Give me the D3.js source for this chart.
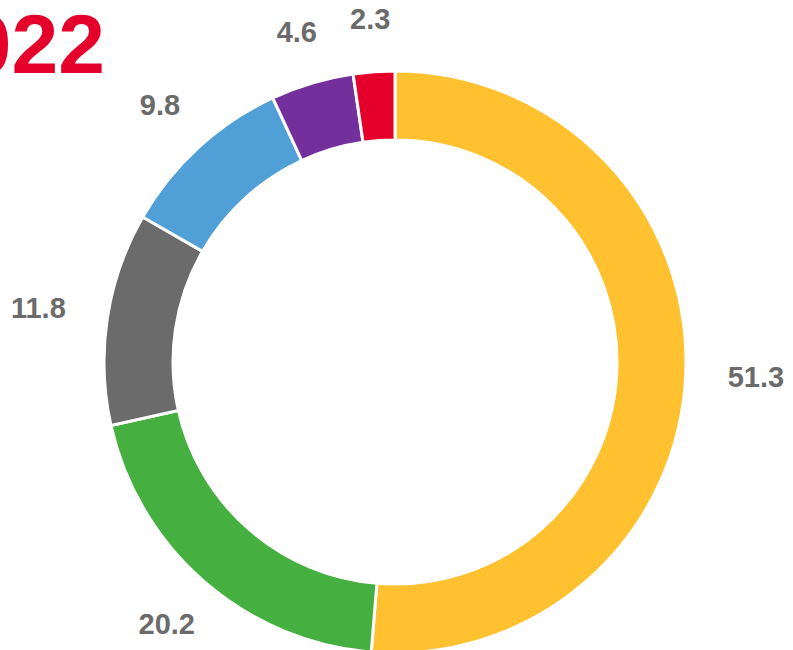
<!DOCTYPE html>
<html lang="en">
  <head>
    <meta charset="utf-8" />
    <title>Donut 2022</title>
    <script src="https://cdn.jsdelivr.net/npm/d3@7"></script>
    <style type="text/css">
      body { margin: 0; background: #fff; }
      svg { display: block; font-family: "Liberation Sans", Arial, sans-serif; }
      .label { font-weight: bold; fill: #6b6b6b; }
    </style>
  </head>
  <body>
    <div id="chart"></div>
    <script type="text/javascript">
      /*******************************************
       * data
       *******************************************/
      const title = "2022";
      const categories = ["a", "b", "c", "d", "e", "f"];
      const values = [51.3, 20.2, 11.8, 9.8, 4.6, 2.3];
      const colors = ["#ffc12f", "#45b03f", "#6b6b6b", "#519fd7", "#73309c", "#e4002b"];

      /*******************************************
       * svg
       *******************************************/
      const width = 793;
      const height = 650;
      const cx = 395;
      const cy = 362;
      const outerR = 291;
      const innerR = 222;
      const labelR = 333;

      const svg = d3.select("#chart").append("svg")
        .attr("width", width)
        .attr("height", height);

      // title, partly cut by left edge
      svg.append("text")
        .attr("x", 105)
        .attr("y", 73)
        .attr("text-anchor", "end")
        .attr("font-size", 84)
        .attr("font-weight", "bold")
        .attr("fill", "#e4002b")
        .text(title);

      /*******************************************
       * pie
       *******************************************/
      const pie = d3.pie().sort(null).value((d) => d.value);
      const arc = d3.arc().innerRadius(innerR).outerRadius(outerR);

      const rows = categories.map((c, i) => ({ key: c, value: values[i], color: colors[i] }));
      const arcs = pie(rows);

      const g = svg.append("g").attr("transform", `translate(${cx}, ${cy})`);

      g.selectAll("path.slice")
        .data(arcs)
        .enter()
        .append("path")
        .attr("class", "slice")
        .attr("d", arc)
        .attr("fill", (d) => d.data.color)
        .attr("stroke", "#fff")
        .attr("stroke-width", 3);

      // labels: box pushed outward from a point on labelR
      const fontSize = 29;
      g.selectAll("text.label")
        .data(arcs)
        .enter()
        .append("text")
        .attr("class", "label")
        .attr("font-size", fontSize)
        .attr("text-anchor", "middle")
        .attr("dominant-baseline", "central")
        .text((d) => d.data.value.toFixed(1))
        .each(function (d) {
          const a = (d.startAngle + d.endAngle) / 2;
          const dx = Math.sin(a);
          const dy = -Math.cos(a);
          const bb = this.getBBox();
          const hw = bb.width / 2;
          const hh = fontSize * 0.38;
          const t = Math.min(hw / Math.max(Math.abs(dx), 1e-6), hh / Math.max(Math.abs(dy), 1e-6));
          d3.select(this)
            .attr("x", dx * (labelR + t))
            .attr("y", dy * (labelR + t));
        });
    </script>
  </body>
</html>
